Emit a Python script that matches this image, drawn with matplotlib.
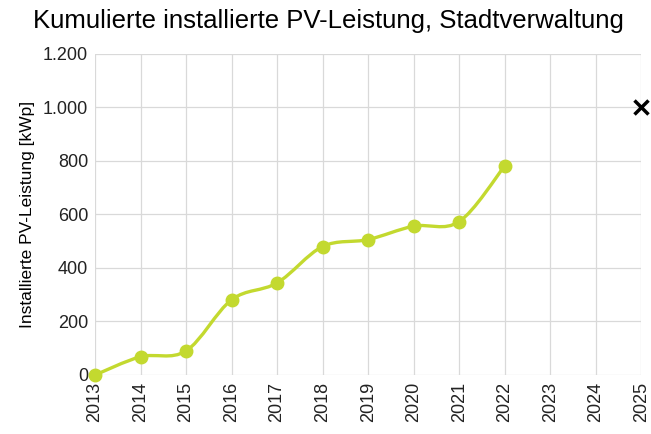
import numpy as np
import matplotlib.pyplot as plt
from matplotlib.path import Path
from matplotlib.patches import PathPatch

plt.rcParams['font.family'] = ['Liberation Sans', 'DejaVu Sans']

# Daten
jahre = [2013, 2014, 2015, 2016, 2017, 2018, 2019, 2020, 2021, 2022]
leistung = [0, 68, 90, 281, 344, 480, 506, 556, 573, 781]
ziel_jahr = 2025
ziel_wert = 1000
xticks = list(range(2013, 2026))
yticks = [0, 200, 400, 600, 800, 1000, 1200]

gruen = '#c3d92f'

fig = plt.figure(figsize=(6.51, 4.34), dpi=100)
ax = fig.add_axes([0.146, 0.136, 0.839, 0.740])

# geglaettete Linie (Catmull-Rom als Bezier)
pts = np.column_stack([jahre, leistung]).astype(float)
verts = [pts[0]]
codes = [Path.MOVETO]
for i in range(len(pts) - 1):
    p0 = pts[i - 1] if i > 0 else pts[i]
    p1 = pts[i]
    p2 = pts[i + 1]
    p3 = pts[i + 2] if i + 2 < len(pts) else pts[i + 1]
    c1 = p1 + (p2 - p0) / 6
    c2 = p2 - (p3 - p1) / 6
    verts += [c1, c2, p2]
    codes += [Path.CURVE4] * 3
ax.add_patch(PathPatch(Path(verts, codes), fill=False, edgecolor=gruen, lw=2.4, zorder=3))
ax.plot(jahre, leistung, 'o', color=gruen, ms=9, zorder=4, clip_on=False)
ax.plot([ziel_jahr], [ziel_wert], 'x', color='black', ms=10, mew=2.5, zorder=5, clip_on=False)

ax.set_xlim(2013, 2025)
ax.set_ylim(0, 1200)
ax.set_xticks(xticks)
ax.set_xticklabels([str(j) for j in xticks], rotation=90)
ax.set_yticks(yticks)
ax.set_yticklabels([f'{v:,}'.replace(',', '.') for v in yticks])
ax.tick_params(length=0, labelsize=13, colors='#222222', pad=5)
ax.grid(True, color='#d9d9d9', lw=0.9)
ax.set_axisbelow(True)
for s in ax.spines.values():
    s.set_visible(False)

ax.set_ylabel('Installierte PV-Leistung [kWp]', fontsize=12.5, labelpad=6)
fig.text(0.05, 0.952, 'Kumulierte installierte PV-Leistung, Stadtverwaltung', fontsize=18.5, va='center', ha='left')

fig.savefig('out.png', dpi=100)
